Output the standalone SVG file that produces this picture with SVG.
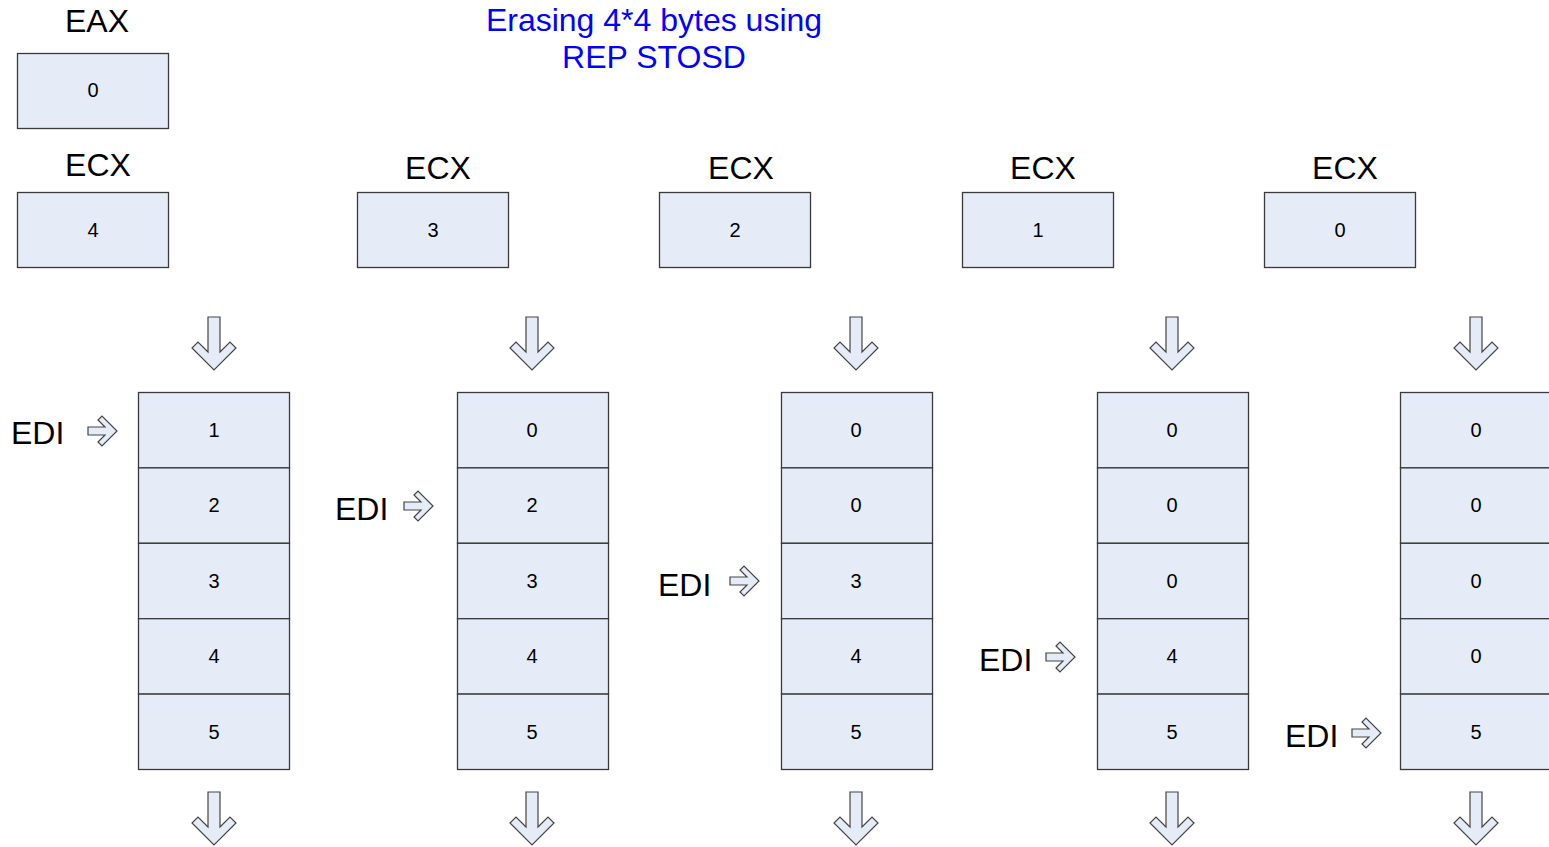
<svg xmlns="http://www.w3.org/2000/svg" xmlns:xlink="http://www.w3.org/1999/xlink" width="1549" height="847" viewBox="0 0 1549 847">
<style>
.box{fill:#E6ECF7;stroke:#3a3a3a;stroke-width:1.3}
.num{font-family:"Liberation Sans",Arial,sans-serif;font-size:20px;fill:#000;text-anchor:middle}
.lbl{font-family:"Liberation Sans",Arial,sans-serif;font-size:32px;fill:#000;text-anchor:middle}
.edi{font-family:"Liberation Sans",Arial,sans-serif;font-size:32px;fill:#000}
.title{font-family:"Liberation Sans",Arial,sans-serif;font-size:32px;fill:#0000FF;text-anchor:middle}
.arr{fill:#E6ECF7;stroke:#444;stroke-width:1.2;stroke-linejoin:miter}
</style>
<defs>
<path id="down" d="M-6,0 H6 V35 L16,25 L22,31 L0,53 L-22,31 L-16,25 L-6,35 Z"/>
<path id="right" d="M0,-4 H17 L10,-11 L14,-15 L29,0 L14,15 L10,11 L17,4 H0 Z"/>
</defs>
<rect width="1549" height="847" fill="#fff"/>
<g id="title">
<text class="title" x="654" y="31">Erasing 4*4 bytes using</text>
<text class="title" x="654" y="68">REP STOSD</text>
</g>
<g id="eax">
<text class="lbl" x="97" y="32">EAX</text>
<rect class="box" x="17.5" y="53.5" width="151" height="75"/>
<text class="num" x="93" y="97">0</text>
</g>
<g id="ecx0"><text class="lbl" x="98" y="176">ECX</text><rect class="box" x="17.5" y="192.5" width="151" height="75"/><text class="num" x="93" y="237">4</text></g>
<g id="ecx1"><text class="lbl" x="438" y="179">ECX</text><rect class="box" x="357.5" y="192.5" width="151" height="75"/><text class="num" x="433" y="237">3</text></g>
<g id="ecx2"><text class="lbl" x="741" y="179">ECX</text><rect class="box" x="659.5" y="192.5" width="151" height="75"/><text class="num" x="735" y="237">2</text></g>
<g id="ecx3"><text class="lbl" x="1043" y="179">ECX</text><rect class="box" x="962.5" y="192.5" width="151" height="75"/><text class="num" x="1038" y="237">1</text></g>
<g id="ecx4"><text class="lbl" x="1345" y="179">ECX</text><rect class="box" x="1264.5" y="192.5" width="151" height="75"/><text class="num" x="1340" y="237">0</text></g>

<g id="mem0">
<rect class="box" x="138.5" y="392.5" width="151" height="75.4"/>
<rect class="box" x="138.5" y="467.9" width="151" height="75.4"/>
<rect class="box" x="138.5" y="543.3" width="151" height="75.4"/>
<rect class="box" x="138.5" y="618.7" width="151" height="75.4"/>
<rect class="box" x="138.5" y="694.1" width="151" height="75.4"/>
<text class="num" x="214" y="437">1</text><text class="num" x="214" y="512">2</text><text class="num" x="214" y="588">3</text><text class="num" x="214" y="663">4</text><text class="num" x="214" y="739">5</text>
</g>
<g id="mem1">
<rect class="box" x="457.5" y="392.5" width="151" height="75.4"/>
<rect class="box" x="457.5" y="467.9" width="151" height="75.4"/>
<rect class="box" x="457.5" y="543.3" width="151" height="75.4"/>
<rect class="box" x="457.5" y="618.7" width="151" height="75.4"/>
<rect class="box" x="457.5" y="694.1" width="151" height="75.4"/>
<text class="num" x="532" y="437">0</text><text class="num" x="532" y="512">2</text><text class="num" x="532" y="588">3</text><text class="num" x="532" y="663">4</text><text class="num" x="532" y="739">5</text>
</g>
<g id="mem2">
<rect class="box" x="781.5" y="392.5" width="151" height="75.4"/>
<rect class="box" x="781.5" y="467.9" width="151" height="75.4"/>
<rect class="box" x="781.5" y="543.3" width="151" height="75.4"/>
<rect class="box" x="781.5" y="618.7" width="151" height="75.4"/>
<rect class="box" x="781.5" y="694.1" width="151" height="75.4"/>
<text class="num" x="856" y="437">0</text><text class="num" x="856" y="512">0</text><text class="num" x="856" y="588">3</text><text class="num" x="856" y="663">4</text><text class="num" x="856" y="739">5</text>
</g>
<g id="mem3">
<rect class="box" x="1097.5" y="392.5" width="151" height="75.4"/>
<rect class="box" x="1097.5" y="467.9" width="151" height="75.4"/>
<rect class="box" x="1097.5" y="543.3" width="151" height="75.4"/>
<rect class="box" x="1097.5" y="618.7" width="151" height="75.4"/>
<rect class="box" x="1097.5" y="694.1" width="151" height="75.4"/>
<text class="num" x="1172" y="437">0</text><text class="num" x="1172" y="512">0</text><text class="num" x="1172" y="588">0</text><text class="num" x="1172" y="663">4</text><text class="num" x="1172" y="739">5</text>
</g>
<g id="mem4">
<rect class="box" x="1400.5" y="392.5" width="151" height="75.4"/>
<rect class="box" x="1400.5" y="467.9" width="151" height="75.4"/>
<rect class="box" x="1400.5" y="543.3" width="151" height="75.4"/>
<rect class="box" x="1400.5" y="618.7" width="151" height="75.4"/>
<rect class="box" x="1400.5" y="694.1" width="151" height="75.4"/>
<text class="num" x="1476" y="437">0</text><text class="num" x="1476" y="512">0</text><text class="num" x="1476" y="588">0</text><text class="num" x="1476" y="663">0</text><text class="num" x="1476" y="739">5</text>
</g>

<g id="edi0"><text class="edi" x="11" y="444">EDI</text></g>
<g id="edi1"><text class="edi" x="335" y="520">EDI</text></g>
<g id="edi2"><text class="edi" x="658" y="596">EDI</text></g>
<g id="edi3"><text class="edi" x="979" y="671">EDI</text></g>
<g id="edi4"><text class="edi" x="1285" y="747">EDI</text></g>

<g id="connectors">
<use href="#down" class="arr" x="214" y="317"/>
<use href="#down" class="arr" x="532" y="317"/>
<use href="#down" class="arr" x="856" y="317"/>
<use href="#down" class="arr" x="1172" y="317"/>
<use href="#down" class="arr" x="1476" y="317"/>
<use href="#down" class="arr" x="214" y="792"/>
<use href="#down" class="arr" x="532" y="792"/>
<use href="#down" class="arr" x="856" y="792"/>
<use href="#down" class="arr" x="1172" y="792"/>
<use href="#down" class="arr" x="1476" y="792"/>
<use href="#right" class="arr" x="88" y="431"/>
<use href="#right" class="arr" x="404" y="506"/>
<use href="#right" class="arr" x="730" y="581"/>
<use href="#right" class="arr" x="1046" y="657"/>
<use href="#right" class="arr" x="1352" y="733"/>
</g>
</svg>
